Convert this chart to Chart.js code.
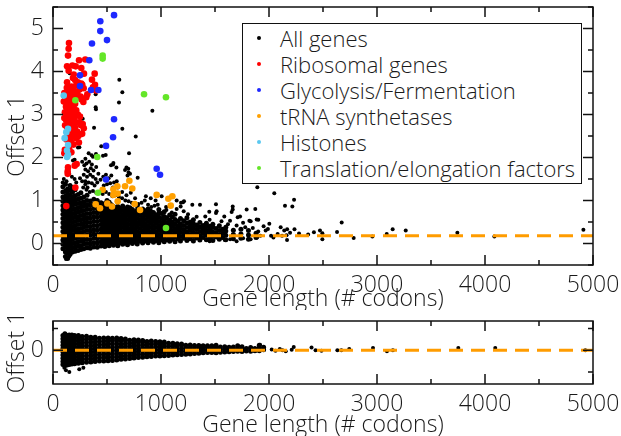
<!DOCTYPE html>
<html>
<head>
<meta charset="utf-8">
<script src="https://cdn.jsdelivr.net/npm/chart.js@4.4.1/dist/chart.umd.min.js"></script>
<style>
  body { margin: 0; background: #fff; }
  #wrap { position: relative; width: 621px; height: 436px; }
  canvas { display: block; }
  #legend {
    position: absolute; left: 242px; top: 23px; width: 340px; height: 161px;
    box-sizing: border-box; border: 1.5px solid #111; background: #fff;
    font-family: 'Open Sans', sans-serif; font-weight: 300; font-size: 22px; color: #1a1a1a;
    padding-top: 1px;
  }
  #legend .row { position: relative; height: 26px; line-height: 26px; padding-left: 37px; white-space: nowrap; }
  #legend .dot { position: absolute; left: 14px; top: 11px; width: 4px; height: 4px; border-radius: 50%; }
</style>
</head>
<body>
<div id="wrap">
  <canvas id="topChart" width="621" height="310"></canvas>
  <canvas id="bottomChart" width="621" height="126"></canvas>
  <div id="legend"></div>
</div>
<script>
// series names and colours (legend order)
const seriesNames = ['All genes', 'Ribosomal genes', 'Glycolysis/Fermentation',
  'tRNA synthetases', 'Histones', 'Translation/elongation factors'];
const seriesColors = ['#000000', '#ff0000', '#1e28ff', '#ffa000', '#5ac8f0', '#64e628'];

// tick positions
const xMajorTicks = [0, 1000, 2000, 3000, 4000, 5000];
const xMinorTicks = [500, 1500, 2500, 3500, 4500];
const yTopMajor = [0, 1, 2, 3, 4, 5];
const yTopMinor = [-0.5, 0.5, 1.5, 2.5, 3.5, 4.5, 5.5];
const yBottomMajor = [0];
const yBottomMinor = [-1, 1];

// all genes, dense part: [gene length, [offsets...]]
const allGenesCols = [
  [92, [-0.12, -0.02, 0.08, 0.18, 0.28, 0.38, 0.48, 0.58, 0.68, 0.78, 0.88, 0.98, 1.08, 1.2, 1.32]],
  [115, [-0.3, -0.2, -0.09, 0.01, 0.1, 0.21, 0.3, 0.41, 0.5, 0.61, 0.7, 0.81, 0.9, 1.01, 1.1, 1.22, 1.38]],
  [135, [-0.35, -0.22, -0.13, -0.03, 0.07, 0.16, 0.27, 0.36, 0.46, 0.56, 0.65, 0.76, 0.85, 0.96, 1.05, 1.16, 1.27]],
  [158, [-0.25, -0.16, -0.06, 0.04, 0.13, 0.23, 0.33, 0.42, 0.53, 0.62, 0.72, 0.82, 0.92, 1.02, 1.12, 1.24, 1.35]],
  [180, [-0.2, -0.1, 0, 0.1, 0.2, 0.3, 0.39, 0.49, 0.59, 0.69, 0.79, 0.89, 0.99, 1.09, 1.19, 1.3]],
  [205, [-0.18, -0.08, 0.02, 0.12, 0.22, 0.31, 0.41, 0.51, 0.61, 0.71, 0.81, 0.91, 1.01, 1.11, 1.25]],
  [232, [-0.16, -0.06, 0.04, 0.14, 0.24, 0.34, 0.44, 0.54, 0.63, 0.73, 0.83, 0.93, 1.03, 1.14]],
  [258, [-0.14, -0.05, 0.05, 0.15, 0.25, 0.35, 0.45, 0.55, 0.65, 0.75, 0.85, 0.95, 1.05, 1.18]],
  [285, [-0.12, -0.02, 0.08, 0.18, 0.28, 0.38, 0.47, 0.57, 0.67, 0.77, 0.87, 0.97, 1.08]],
  [315, [-0.1, 0, 0.1, 0.2, 0.3, 0.4, 0.5, 0.6, 0.7, 0.8, 0.9, 1.0, 1.12]],
  [345, [-0.11, -0.01, 0.09, 0.19, 0.29, 0.39, 0.49, 0.59, 0.69, 0.79, 0.89, 0.99]],
  [378, [-0.08, 0.02, 0.12, 0.22, 0.32, 0.42, 0.52, 0.62, 0.72, 0.82, 0.92, 1.03]],
  [410, [-0.09, 0.01, 0.11, 0.21, 0.31, 0.41, 0.51, 0.61, 0.71, 0.81, 0.9, 1.0]],
  [445, [-0.06, 0.04, 0.14, 0.24, 0.34, 0.44, 0.54, 0.64, 0.74, 0.84, 0.95]],
  [462, [-0.02, 0.08, 0.18, 0.28, 0.38, 0.48, 0.58, 0.68, 0.78, 0.88]],
  [480, [-0.07, 0.03, 0.13, 0.23, 0.33, 0.43, 0.53, 0.63, 0.73, 0.83, 0.93]],
  [500, [-0.02, 0.08, 0.18, 0.28, 0.38, 0.48, 0.58, 0.68, 0.78, 0.88, 1.0]],
  [520, [-0.05, 0.05, 0.15, 0.25, 0.35, 0.45, 0.55, 0.65, 0.75, 0.85, 0.96]],
  [540, [0, 0.1, 0.2, 0.3, 0.4, 0.5, 0.6, 0.7, 0.8, 0.9]],
  [560, [-0.04, 0.06, 0.16, 0.26, 0.36, 0.46, 0.56, 0.66, 0.76, 0.86]],
  [580, [0, 0.1, 0.2, 0.3, 0.4, 0.5, 0.6, 0.7, 0.81]],
  [600, [-0.05, 0.05, 0.15, 0.25, 0.35, 0.45, 0.55, 0.65, 0.75, 0.86]],
  [622, [0.02, 0.12, 0.22, 0.32, 0.42, 0.52, 0.62, 0.72, 0.82]],
  [645, [-0.02, 0.07, 0.17, 0.27, 0.37, 0.47, 0.57, 0.67, 0.77, 0.87]],
  [668, [0.01, 0.11, 0.21, 0.31, 0.41, 0.51, 0.61, 0.71, 0.8]],
  [690, [-0.03, 0.06, 0.16, 0.26, 0.36, 0.46, 0.56, 0.66, 0.76, 0.85]],
  [712, [0.04, 0.14, 0.24, 0.34, 0.44, 0.54, 0.64, 0.74, 0.83]],
  [735, [0, 0.09, 0.19, 0.29, 0.39, 0.49, 0.59, 0.69, 0.79]],
  [757, [0.04, 0.14, 0.24, 0.34, 0.44, 0.54, 0.64, 0.74]],
  [780, [-0.01, 0.08, 0.18, 0.28, 0.38, 0.48, 0.58, 0.68, 0.78, 0.88]],
  [805, [0.05, 0.15, 0.25, 0.35, 0.45, 0.55, 0.65, 0.75]],
  [830, [0.01, 0.1, 0.2, 0.3, 0.4, 0.5, 0.6, 0.7, 0.8]],
  [855, [0.06, 0.16, 0.26, 0.36, 0.46, 0.56, 0.66, 0.76]],
  [880, [0.02, 0.11, 0.21, 0.31, 0.41, 0.51, 0.61, 0.71, 0.8]],
  [905, [0.07, 0.17, 0.27, 0.37, 0.47, 0.57, 0.67, 0.75]],
  [930, [0.03, 0.12, 0.22, 0.32, 0.42, 0.52, 0.62, 0.72]],
  [955, [0.07, 0.17, 0.27, 0.37, 0.47, 0.57, 0.66]],
  [980, [0.02, 0.11, 0.21, 0.31, 0.41, 0.51, 0.61, 0.71, 0.79]],
  [1005, [0.08, 0.18, 0.28, 0.38, 0.48, 0.58, 0.7]],
  [1030, [0.04, 0.13, 0.23, 0.33, 0.43, 0.53, 0.63, 0.74]],
  [1055, [0.09, 0.19, 0.29, 0.39, 0.49, 0.6]],
  [1080, [0.05, 0.14, 0.24, 0.34, 0.44, 0.54, 0.66]],
  [1105, [0.1, 0.2, 0.3, 0.4, 0.5, 0.62]],
  [1130, [0.04, 0.15, 0.25, 0.35, 0.45, 0.56, 0.68]],
  [1155, [0.11, 0.21, 0.31, 0.41, 0.52]],
  [1180, [0.06, 0.16, 0.26, 0.36, 0.46, 0.58]],
  [1210, [0.12, 0.22, 0.32, 0.42, 0.53]],
  [1240, [0.07, 0.17, 0.27, 0.37, 0.48, 0.6]],
  [1270, [0.11, 0.21, 0.31, 0.41, 0.5]],
  [1300, [0.06, 0.16, 0.26, 0.36, 0.46, 0.55]],
  [1330, [0.13, 0.23, 0.33, 0.43]],
  [1360, [0.08, 0.18, 0.28, 0.38, 0.49]],
  [1390, [0.14, 0.24, 0.34, 0.42]],
  [1420, [0.09, 0.19, 0.29, 0.39, 0.47]],
  [1450, [0.12, 0.22, 0.32, 0.4]],
  [1480, [0.07, 0.17, 0.27, 0.37, 0.45]],
  [1510, [0.15, 0.25, 0.35]],
  [1540, [0.1, 0.2, 0.3, 0.41]],
  [1570, [0.14, 0.24, 0.33]],
  [1600, [0.09, 0.19, 0.29, 0.38]],
  [1670, [0.11, 0.21, 0.31]],
  [1740, [0.12, 0.22, 0.33]],
  [1810, [0.1, 0.2, 0.3]],
  [1880, [0.14, 0.24]]
];

// all genes, scattered points: [gene length, offset]
const allGenesSparse = [
  [614, 3.81], [642, 3.52], [611, 3.28], [395, 3.47], [395, 3.17], [398, 3.12], [920, 3.09], [642, 2.67],
  [380, 2.69], [766, 2.49], [275, 2.9], [278, 2.64], [154, 3.96], [704, 2.1], [398, 2.08], [358, 2.05],
  [244, 2.24], [447, 2.26], [231, 2.23], [559, 1.87], [587, 1.77], [667, 1.71], [463, 2.04], [488, 2.06],
  [300, 1.97], [330, 2.1], [370, 2.02], [200, 1.95], [185, 1.93], [125, 2.12], [150, 2.16], [537, 1.82],
  [556, 1.84], [697, 1.74], [713, 1.62], [784, 1.53], [680, 1.77], [700, 1.65], [690, 1.58], [125, 1.45],
  [150, 1.62], [175, 1.55], [200, 1.5], [215, 1.42], [90, 1.42], [100, 1.5], [250, 1.52], [270, 1.45],
  [300, 1.38], [320, 1.3], [270, 1.9], [290, 1.82], [310, 1.86], [335, 1.9], [360, 1.84], [300, 1.72],
  [325, 1.68], [350, 1.75], [375, 1.7], [400, 1.78], [285, 1.6], [315, 1.55], [345, 1.6], [370, 1.55],
  [395, 1.5], [420, 1.62], [300, 1.45], [330, 1.42], [360, 1.4], [385, 1.35], [410, 1.42], [440, 1.48],
  [465, 1.55], [490, 1.6], [515, 1.52], [540, 1.58], [565, 1.42], [590, 1.45], [470, 1.35], [500, 1.38],
  [530, 1.4], [555, 1.3], [600, 1.3], [280, 1.3], [310, 1.25], [340, 1.2], [370, 1.22], [400, 1.18],
  [430, 1.2], [460, 1.15], [490, 1.2], [520, 1.15], [550, 1.1], [580, 1.12], [610, 1.08], [640, 1.05],
  [670, 1.0], [700, 0.98], [730, 0.95], [760, 1.05], [790, 0.92], [820, 0.95], [850, 1.0], [880, 0.9],
  [910, 0.85], [940, 0.88], [970, 0.9], [640, 1.2], [680, 1.12], [720, 1.18], [860, 1.1], [905, 1.05],
  [950, 1.0], [1006, 1.1], [1047, 0.85], [1145, 1.0], [1185, 0.95], [1213, 0.98], [1204, 0.96], [1290, 0.9],
  [1361, 0.9], [1509, 0.91], [1515, 0.75], [1664, 0.86], [1664, 0.79], [1654, 0.73], [1447, 0.74], [1509, 0.71],
  [1586, 0.63], [1732, 0.63], [1793, 0.79], [1818, 0.53], [1873, 0.8], [1901, 0.55], [1886, 0.56], [1892, 1.31],
  [1210, 0.75], [1145, 0.8], [1182, 0.86], [1410, 0.63], [1450, 0.55], [1760, 0.48], [1830, 0.52], [1710, 0.61],
  [1639, 0.53], [1050, 0.78], [1100, 0.72], [1250, 0.68], [1330, 0.62], [1560, 0.52], [1620, 0.45], [1700, 0.42],
  [1780, 0.38], [1850, 0.36], [1950, 0.4], [1450, 0.05], [1590, 0.08], [1640, 0.1], [1830, 0.1], [1890, 0.14],
  [1700, 0.05], [1760, 0.12], [1920, 0.18], [120, -0.36], [135, -0.32], [150, -0.3], [1990, 0.34], [1900, 0.28],
  [2049, 1.17], [2232, 1.02], [2148, 0.88], [2216, 0.86], [2003, 0.46], [2108, 0.38], [1969, 0.3], [2141, 0.3],
  [2168, 0.33], [2195, 0.25], [2236, 0.33], [2278, 0.23], [2162, 0.19], [2121, 0.18], [2167, 0.08], [2019, 0.18],
  [2041, 0.14], [2080, 0.22], [2362, 0.21], [2416, 0.26], [2472, 0.3], [2494, 0.24], [2494, 0.1], [2673, 0.49],
  [2630, 0.27], [2784, 0.13], [2957, 0.16], [3090, 0.22], [3145, 0.33], [3266, 0.3], [3744, 0.25], [4087, 0.16],
  [4911, 0.32]
];

const ribosomal = [
  [148, 4.66], [145, 4.53], [139, 4.37], [241, 4.26], [299, 4.28], [130, 4.12], [210, 4.12], [262, 4.08],
  [180, 4.14], [145, 4.02], [192, 3.93], [287, 3.95], [386, 3.95], [185, 3.85], [205, 3.8], [230, 3.75],
  [262, 3.72], [215, 3.68], [361, 3.81], [389, 3.69], [130, 3.75], [128, 3.62], [131, 3.5], [138, 3.42],
  [148, 3.37], [271, 3.69], [284, 3.61], [370, 3.63], [398, 3.56], [318, 3.47], [308, 3.4], [210, 3.44],
  [240, 3.4], [265, 3.35], [281, 3.29], [255, 3.42], [105, 3.5], [118, 3.45], [160, 3.52], [175, 3.45],
  [195, 3.55], [225, 3.5], [150, 3.6], [170, 3.65], [245, 3.58],
  [100, 3.3], [115, 3.35], [130, 3.28], [145, 3.3], [160, 3.25], [175, 3.32], [190, 3.2], [205, 3.25],
  [120, 3.18], [135, 3.12], [150, 3.15], [165, 3.08], [180, 3.12], [110, 3.05], [125, 3.0], [140, 3.02],
  [155, 2.95], [170, 2.98], [185, 3.02], [200, 3.05], [215, 3.1], [230, 3.0], [250, 2.95], [105, 2.92],
  [120, 2.88], [135, 2.85], [150, 2.82], [165, 2.88], [180, 2.85], [195, 2.9], [210, 2.82], [245, 2.82],
  [260, 2.75], [275, 2.78], [112, 2.75], [128, 2.72], [143, 2.7], [158, 2.68], [175, 2.72], [190, 2.65],
  [205, 2.7], [225, 2.6], [140, 2.55], [160, 2.52], [180, 2.48], [200, 2.55], [215, 2.45], [235, 2.5],
  [150, 2.4], [170, 2.35], [190, 2.3], [125, 2.42], [240, 2.35], [270, 2.55], [285, 2.68],
  [219, 1.85], [139, 1.77], [201, 1.81], [136, 1.68], [136, 1.62], [105, 2.1], [150, 2.2], [207, 1.3],
  [123, 0.87], [110, 2.18], [170, 2.12]
];

const glycolysis = [
  [565, 5.31], [438, 5.17], [438, 4.94], [500, 4.73], [361, 4.65], [336, 4.26], [250, 3.91], [250, 3.66],
  [352, 3.57], [420, 3.57], [565, 2.89], [556, 2.47], [491, 2.27], [960, 1.74], [991, 1.6], [491, 1.49]
];

const trnaSynth = [
  [395, 0.91], [435, 0.82], [460, 1.25], [503, 0.93], [546, 0.86], [559, 1.26], [559, 1.13], [596, 1.33],
  [599, 1.16], [599, 0.98], [667, 1.33], [707, 1.46], [734, 1.28], [756, 0.92], [806, 0.78], [960, 1.13],
  [1068, 1.04], [1090, 0.88], [1105, 1.1]
];

const histones = [
  [99, 3.44], [139, 2.67], [123, 2.59], [108, 2.45], [139, 2.29], [130, 2.16], [139, 2.06], [130, 2.01]
];

const translation = [
  [460, 4.37], [460, 4.3], [843, 3.47], [1046, 3.4], [207, 3.33], [410, 2.01], [417, 1.18], [1046, 0.36]
];

// fitted offset line (top) and zero line (residuals)
const fitLine = [[0, 0.18], [5000, 0.18]];
const zeroLine = [[0, 0], [5000, 0]];

// residuals after the fit (bottom panel): [gene length, [residuals...]]
const residualCols = [
  [92, [-0.66, -0.52, -0.37, -0.22, -0.07, 0.08, 0.23, 0.38, 0.53, 0.68]],
  [110, [-0.7, -0.55, -0.4, -0.25, -0.1, 0.05, 0.2, 0.35, 0.5, 0.65, 0.76]],
  [130, [-0.68, -0.53, -0.38, -0.23, -0.08, 0.07, 0.22, 0.37, 0.52, 0.67]],
  [150, [-0.65, -0.5, -0.35, -0.2, -0.05, 0.1, 0.25, 0.4, 0.55, 0.7]],
  [175, [-0.63, -0.48, -0.33, -0.18, -0.03, 0.12, 0.27, 0.42, 0.57, 0.7]],
  [200, [-0.62, -0.47, -0.32, -0.17, -0.02, 0.13, 0.28, 0.43, 0.58, 0.68]],
  [235, [-0.6, -0.45, -0.3, -0.15, 0, 0.15, 0.3, 0.45, 0.6, 0.67]],
  [270, [-0.57, -0.42, -0.27, -0.12, 0.03, 0.18, 0.33, 0.48, 0.63]],
  [310, [-0.55, -0.4, -0.25, -0.1, 0.05, 0.2, 0.35, 0.5, 0.64]],
  [350, [-0.54, -0.39, -0.24, -0.09, 0.06, 0.21, 0.36, 0.51, 0.6]],
  [390, [-0.52, -0.37, -0.22, -0.07, 0.08, 0.23, 0.38, 0.53, 0.6]],
  [430, [-0.5, -0.35, -0.2, -0.05, 0.1, 0.25, 0.4, 0.55]],
  [470, [-0.49, -0.34, -0.19, -0.04, 0.11, 0.26, 0.41, 0.56]],
  [510, [-0.48, -0.33, -0.18, -0.03, 0.12, 0.27, 0.42, 0.56]],
  [550, [-0.47, -0.32, -0.17, -0.02, 0.13, 0.28, 0.43, 0.55]],
  [590, [-0.45, -0.3, -0.15, 0, 0.15, 0.3, 0.45, 0.56]],
  [630, [-0.42, -0.28, -0.14, 0.01, 0.15, 0.29, 0.44, 0.54]],
  [670, [-0.4, -0.26, -0.12, 0.02, 0.16, 0.3, 0.44, 0.52]],
  [710, [-0.38, -0.24, -0.1, 0.04, 0.18, 0.32, 0.46]],
  [750, [-0.36, -0.22, -0.08, 0.06, 0.2, 0.34, 0.48]],
  [790, [-0.34, -0.2, -0.06, 0.08, 0.22, 0.36, 0.47]],
  [830, [-0.32, -0.18, -0.04, 0.1, 0.24, 0.38, 0.45]],
  [870, [-0.3, -0.16, -0.02, 0.12, 0.26, 0.4]],
  [910, [-0.29, -0.15, -0.01, 0.13, 0.27, 0.42]],
  [950, [-0.27, -0.13, 0.01, 0.15, 0.29, 0.4]],
  [990, [-0.26, -0.12, 0.02, 0.16, 0.3, 0.39]],
  [1030, [-0.25, -0.11, 0.03, 0.17, 0.31, 0.38]],
  [1070, [-0.24, -0.1, 0.04, 0.18, 0.32]],
  [1110, [-0.22, -0.08, 0.06, 0.2, 0.32]],
  [1150, [-0.21, -0.07, 0.07, 0.21, 0.3]],
  [1190, [-0.2, -0.06, 0.08, 0.22, 0.28]],
  [1230, [-0.18, -0.05, 0.09, 0.23]],
  [1270, [-0.17, -0.04, 0.1, 0.24]],
  [1310, [-0.15, -0.02, 0.11, 0.22]],
  [1350, [-0.14, -0.01, 0.12, 0.22]],
  [1390, [-0.12, 0, 0.12, 0.2]],
  [1430, [-0.11, 0.01, 0.13, 0.2]],
  [1470, [-0.1, 0.02, 0.14, 0.21]],
  [1510, [-0.12, 0, 0.12, 0.23]],
  [1550, [-0.09, 0.03, 0.15]],
  [1590, [-0.08, 0.04, 0.16]],
  [1630, [-0.07, 0.05, 0.14]],
  [1670, [-0.06, 0.06, 0.15]],
  [1710, [-0.05, 0.07, 0.2]],
  [1750, [-0.06, 0.06, 0.16]],
  [1790, [-0.04, 0.08]],
  [1830, [-0.05, 0.07, 0.12]],
  [1870, [-0.03, 0.08]],
  [1910, [-0.02, 0.1, 0.23]],
  [1950, [0.02, 0.14]]
];

const residualSparse = [
  [120, -0.92], [151, -1.0], [243, -0.87], [281, -0.81], [105, -0.8], [1917, 0.25],
  [2025, 0.03], [2060, -0.02], [2100, 0.05], [2125, 0], [2155, -0.05], [2210, 0.02], [2229, 0.15],
  [2394, 0.12], [2431, 0], [2486, -0.03], [2633, 0], [2670, 0], [2743, 0.05], [2963, 0.1],
  [3092, -0.05], [3147, 0], [3753, 0.1], [4095, 0.1], [4929, 0]
];

const flatten = cols => cols.flatMap(([x, ys]) => ys.map(y => [x, y]));
const allGenesDense = flatten(allGenesCols);
const residualsDense = flatten(residualCols);

const FONT = "'Open Sans', sans-serif";
const TEXT = '#1a1a1a';
const ORANGE = '#ff9c00';

function toXY(pairs) {
    return pairs.map(p => ({ x: p[0], y: p[1] }));
}

function pointSet(label, pairs, color, r) {
    return {
        label: label,
        data: toXY(pairs),
        backgroundColor: color,
        borderWidth: 0,
        pointRadius: r,
        pointHoverRadius: r
    };
}

function dashedLine(pairs) {
    return {
        label: 'fit',
        data: toXY(pairs),
        showLine: true,
        borderColor: ORANGE,
        borderWidth: 3,
        borderDash: [14, 8],
        pointRadius: 0,
        fill: false
    };
}

/**
 * Frame box plus inward ticks on all four sides
 */
const frameTicks = {
    id: 'frameTicks',
    afterDraw(chart, args, opts) {
        const { ctx, chartArea: a, scales } = chart;
        const xs = scales.x, ys = scales.y;
        ctx.save();
        ctx.strokeStyle = '#111';
        ctx.lineWidth = 1.5;
        ctx.beginPath();
        const xMark = (vals, len) => vals.forEach(v => {
            const px = xs.getPixelForValue(v);
            ctx.moveTo(px, a.bottom); ctx.lineTo(px, a.bottom - len);
            ctx.moveTo(px, a.top); ctx.lineTo(px, a.top + len);
        });
        const yMark = (vals, len) => vals.forEach(v => {
            const py = ys.getPixelForValue(v);
            ctx.moveTo(a.left, py); ctx.lineTo(a.left + len, py);
            ctx.moveTo(a.right, py); ctx.lineTo(a.right - len, py);
        });
        xMark(opts.xMajor, 10);
        xMark(opts.xMinor, 5);
        yMark(opts.yMajor, 10);
        yMark(opts.yMinor, 5);
        ctx.stroke();
        ctx.strokeRect(a.left, a.top, a.right - a.left, a.bottom - a.top);
        ctx.restore();
    }
};

function baseOptions(yMin, yMax, yMajor, yMinor, topPad, xHeight, titlePad) {
    return {
        responsive: false,
        animation: false,
        devicePixelRatio: 1,
        events: [],
        layout: { padding: { top: topPad, right: 28, left: 0, bottom: 0 } },
        plugins: {
            legend: { display: false },
            tooltip: { enabled: false },
            frameTicks: { xMajor: xMajorTicks, xMinor: xMinorTicks, yMajor: yMajor, yMinor: yMinor }
        },
        scales: {
            x: {
                type: 'linear', min: 0, max: 5000,
                afterBuildTicks: s => { s.ticks = xMajorTicks.map(v => ({ value: v })); },
                afterFit: s => { s.height = xHeight; s.paddingLeft = 0; s.paddingRight = 0; },
                grid: { display: false, drawTicks: false },
                border: { display: false },
                ticks: {
                    color: TEXT, padding: 9, maxRotation: 0,
                    callback: v => String(v),
                    font: { family: FONT, size: 23, weight: '300', lineHeight: 1 }
                },
                title: {
                    display: true, text: 'Gene length (# codons)', color: TEXT,
                    padding: { top: 0, bottom: titlePad },
                    font: { family: FONT, size: 23, weight: '300', lineHeight: 1 }
                }
            },
            y: {
                type: 'linear', min: yMin, max: yMax,
                afterBuildTicks: s => { s.ticks = yMajor.map(v => ({ value: v })); },
                afterFit: s => { s.width = 53; s.paddingTop = 0; s.paddingBottom = 0; },
                grid: { display: false, drawTicks: false },
                border: { display: false },
                ticks: {
                    color: TEXT, padding: 9,
                    callback: v => String(v),
                    font: { family: FONT, size: 23, weight: '300', lineHeight: 1 }
                },
                title: {
                    display: true, text: 'Offset 1', color: TEXT,
                    padding: { top: 6, bottom: 0 },
                    font: { family: FONT, size: 23, weight: '300', lineHeight: 1 }
                }
            }
        }
    };
}

// Top panel: offsets
new Chart(document.getElementById('topChart').getContext('2d'), {
    type: 'scatter',
    data: {
        datasets: [
            dashedLine(fitLine),
            pointSet(seriesNames[5], translation, seriesColors[5], 3.3),
            pointSet(seriesNames[4], histones, seriesColors[4], 3.3),
            pointSet(seriesNames[3], trnaSynth, seriesColors[3], 3.3),
            pointSet(seriesNames[2], glycolysis, seriesColors[2], 3.3),
            pointSet(seriesNames[1], ribosomal, seriesColors[1], 3.3),
            pointSet(seriesNames[0], allGenesSparse, seriesColors[0], 2),
            pointSet(seriesNames[0], allGenesDense, seriesColors[0], 2.5)
        ]
    },
    options: baseOptions(-0.5, 5.5, yTopMajor, yTopMinor, 7, 45, -1),
    plugins: [frameTicks]
});

// Bottom panel: residuals
new Chart(document.getElementById('bottomChart').getContext('2d'), {
    type: 'scatter',
    data: {
        datasets: [
            dashedLine(zeroLine),
            pointSet(seriesNames[0], residualSparse, seriesColors[0], 2),
            pointSet(seriesNames[0], residualsDense, seriesColors[0], 2.5)
        ]
    },
    options: baseOptions(-1.55, 1.34, yBottomMajor, yBottomMinor, 11, 52, -1),
    plugins: [frameTicks]
});

// HTML legend
const legendEl = document.getElementById('legend');
seriesNames.forEach((name, i) => {
    const row = document.createElement('div');
    row.className = 'row';
    const dot = document.createElement('span');
    dot.className = 'dot';
    dot.style.background = seriesColors[i];
    row.appendChild(dot);
    row.appendChild(document.createTextNode(name));
    legendEl.appendChild(row);
});
</script>
</body>
</html>
